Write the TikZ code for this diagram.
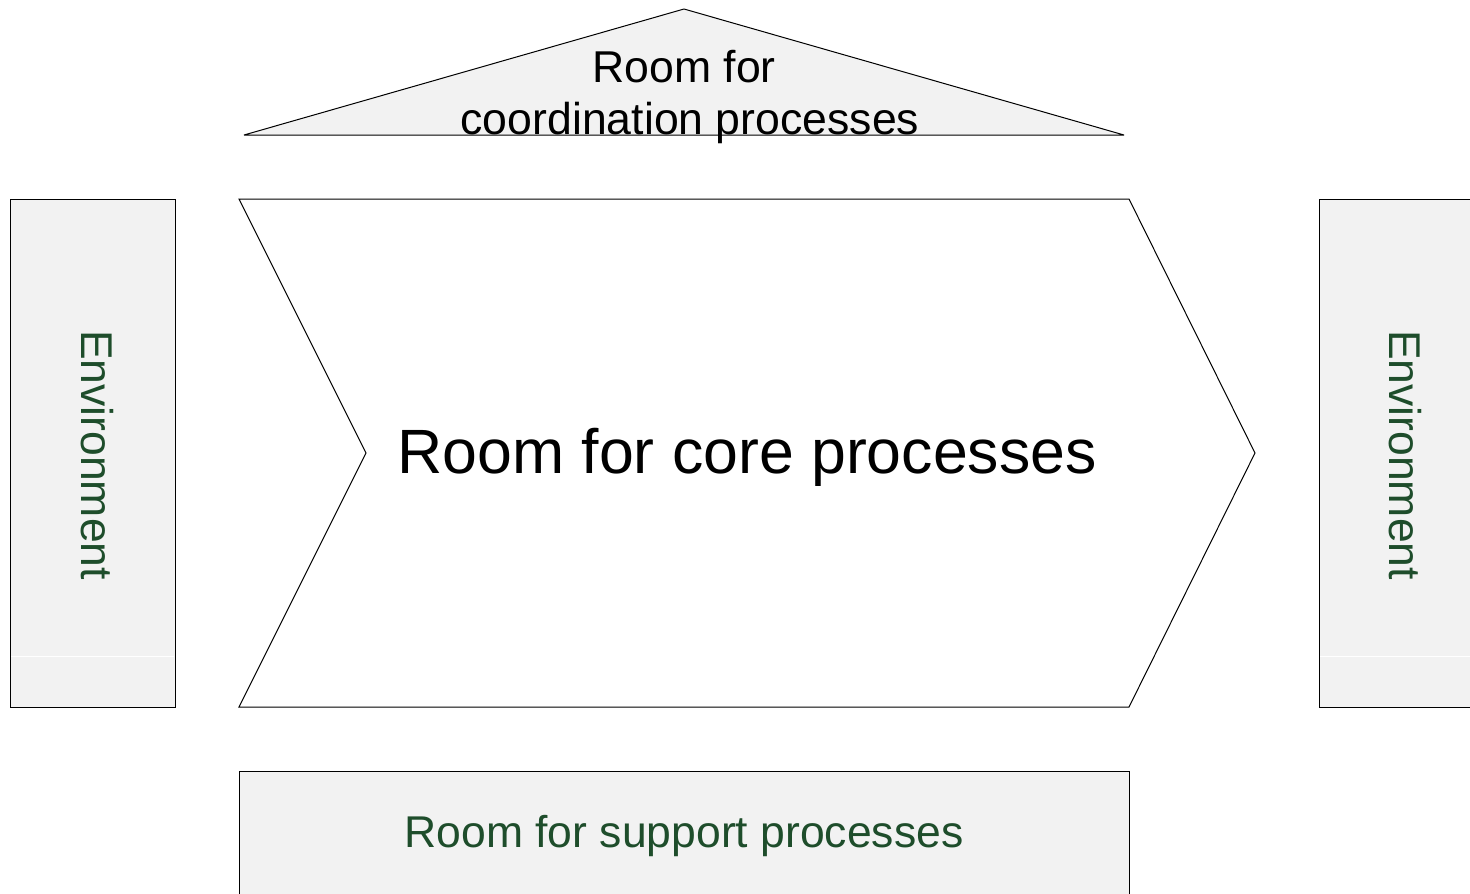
\documentclass[tikz,border=0pt]{standalone}
\usepackage{fontspec}
\setmainfont{Liberation Sans}
\definecolor{boxfill}{RGB}{242,242,242}
\definecolor{envgreen}{RGB}{30,77,43}
\begin{document}
\begin{tikzpicture}[x=1pt,y=1pt,
  shapeline/.style={draw=black,line width=1pt,line join=miter},
  greybox/.style={shapeline,fill=boxfill},
  label/.style={inner sep=0pt,anchor=base},
  greentext/.style={label,text=envgreen,font=\fontsize{44.5}{52}\selectfont},
]
\useasboundingbox (0,0) rectangle (1470,-894);
% coordination triangle
\draw[greybox,line join=bevel] (684,-9) -- (1124,-135) -- (244,-135) -- cycle;
\node[label,font=\fontsize{44.6}{52}\selectfont] (coordA) at (684,-82) {Room for};
\node[label,font=\fontsize{44.6}{52}\selectfont] (coordB) at (690,-134) {coordination processes};
% environment boxes
\draw[greybox] (10,-199) rectangle (175,-707);
\draw[white,line width=0.8pt] (11,-656) -- (174,-656);
\node[greentext,rotate=-90] (envL) at (81,-455) {Environment};
\draw[greybox] (1319,-199) rectangle (1475,-707);
\draw[white,line width=0.8pt] (1320,-656) -- (1470,-656);
\node[greentext,rotate=-90] (envR) at (1389,-455) {Environment};
% core chevron
\draw[shapeline,fill=white] (239,-199) -- (1129,-199) -- (1255,-453) -- (1129,-707) -- (239,-707) -- (366,-453) -- cycle;
\node[label,font=\fontsize{62.6}{70}\selectfont] (core) at (747,-473) {Room for core processes};
% support box
\draw[greybox] (239,-771) rectangle (1129,-900);
\node[greentext] (support) at (684,-847) {Room for support processes};
\end{tikzpicture}
\end{document}
